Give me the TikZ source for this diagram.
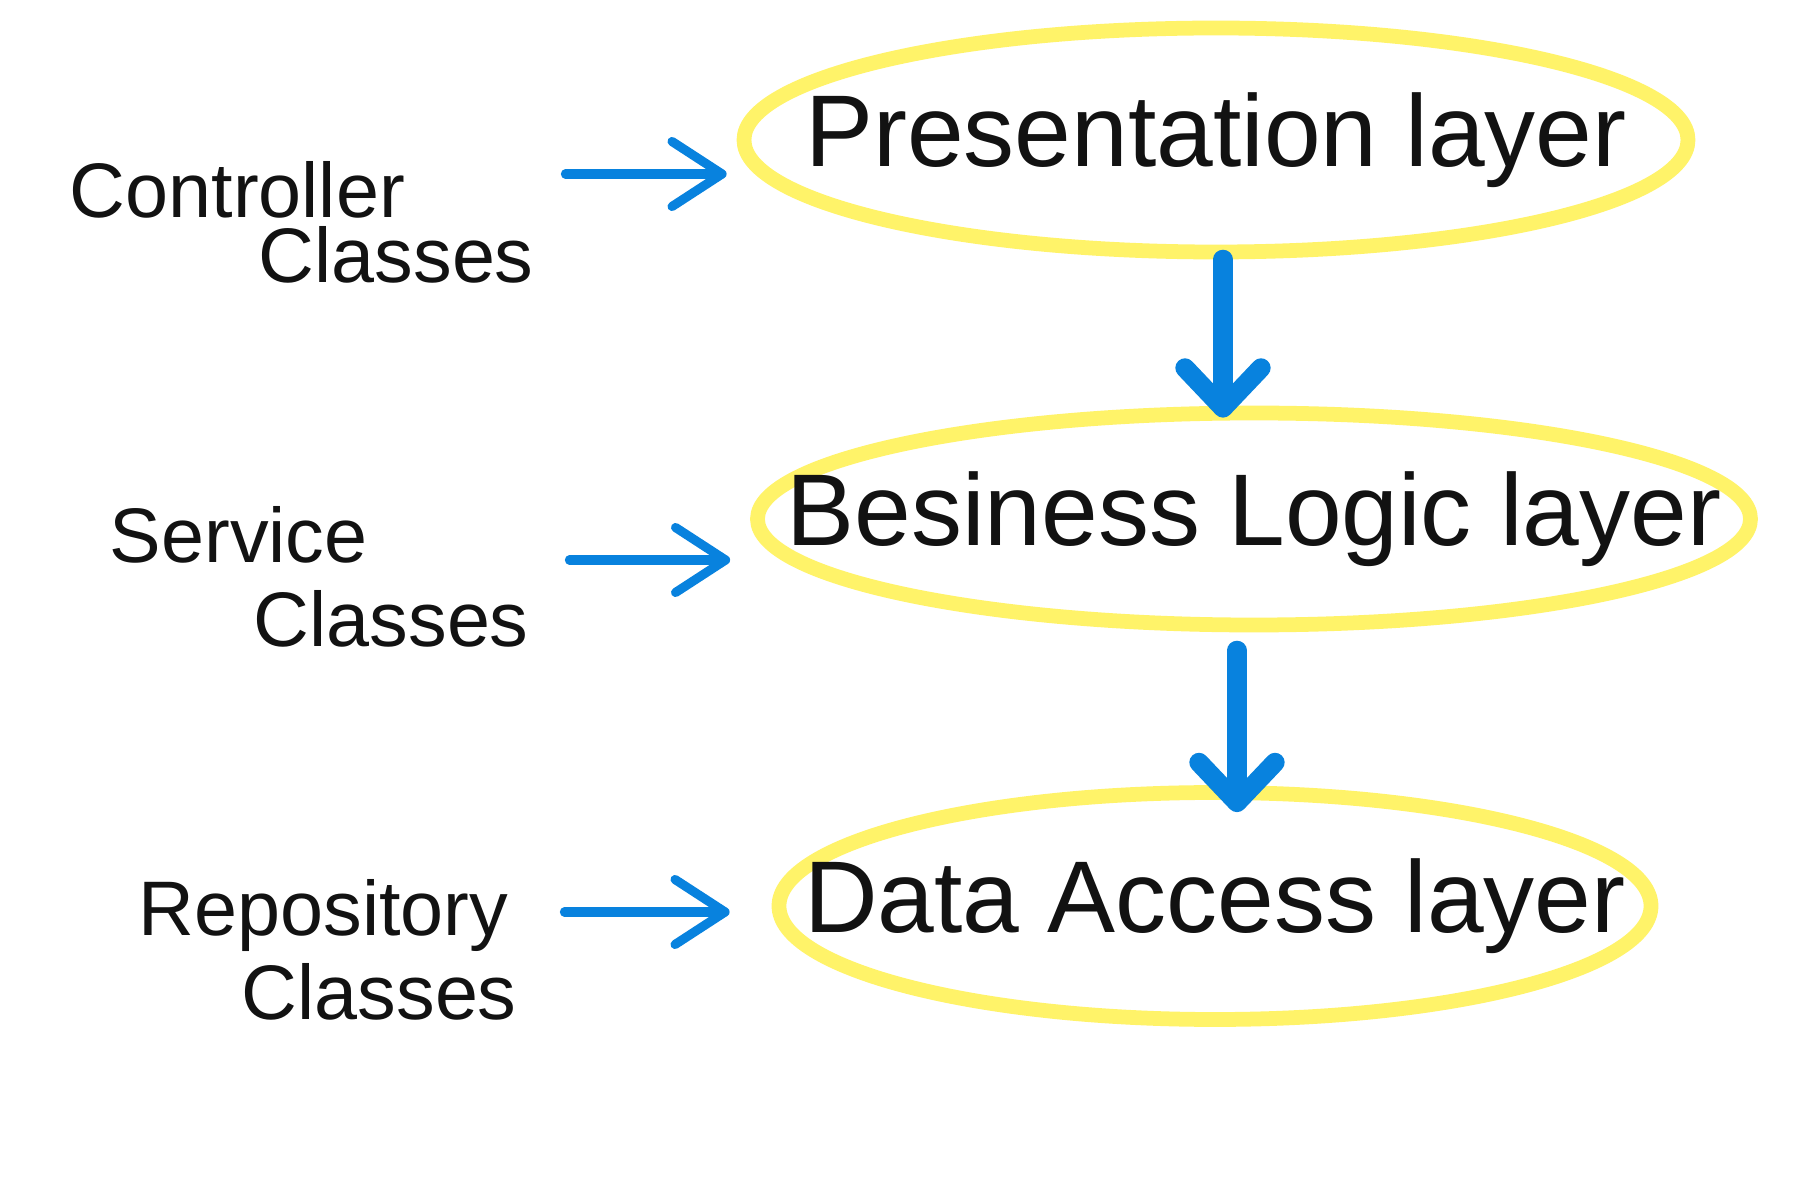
\documentclass[tikz,border=0pt]{standalone}
\usepackage{fontspec}
\setmainfont{Liberation Sans}
\usetikzlibrary{shapes.geometric, arrows.meta, positioning}
\definecolor{hlyellow}{RGB}{255,243,105}
\definecolor{penblue}{RGB}{8,130,222}
\definecolor{inkblack}{RGB}{18,18,18}

\begin{document}
\begin{tikzpicture}[
    layer/.style={ellipse, draw=hlyellow, line width=4.2pt,
                inner xsep=-1.5cm, inner ysep=-0.5cm,
                text=inkblack, font=\fontsize{29}{34}\selectfont},
    cls/.style={anchor=west, align=left, inner sep=0pt, text=inkblack,
                font=\fontsize{22}{24}\selectfont},
    harr/.style={-{Straight Barb[round, length=5mm, width=6.5mm]}, draw=penblue,
                line width=2.6pt, line cap=round},
    varr/.style={-{Straight Barb[round, length=4mm, width=7.6mm]}, draw=penblue,
                line width=5.5pt, line cap=round}
  ]
  \useasboundingbox[fill=white] (0,0) rectangle (18,12);

  %% ---- Layers ----
  \node[layer, minimum width=9.44cm, minimum height=2.24cm] (pres) at (12.16,10.60) {\raisebox{-1.5mm}{Presentation layer}};
  \node[layer, minimum width=9.93cm, minimum height=2.12cm] (busi) at (12.54,6.81)  {\raisebox{-1mm}{Besiness Logic layer}};
  \node[layer, minimum width=8.72cm, minimum height=2.27cm] (data) at (12.15,2.94)  {Data Access layer};

  %% ---- Class labels ----
  \node[cls] (ctrl) at (0.69,9.78) {Controller\\[-5.5pt]\hspace*{1.89cm}Classes};
  \node[cls] (serv) at (1.09,6.23) {Service\\\hspace*{1.44cm}Classes};
  \node[cls] (repo) at (1.38,2.50) {Repository\\\hspace*{1.03cm}Classes};

  %% ---- Label arrows ----
  \coordinate (ctrlout) at ([yshift=4.8mm]ctrl.east);
  \coordinate (servout) at ([yshift=1.7mm]serv.east);
  \coordinate (repoout) at ([yshift=3.8mm]repo.east);
  \draw[harr, shorten <=3.1mm, shorten >=1.0mm] (ctrlout) -- (ctrlout -| pres.west);
  \draw[harr, shorten <=4.0mm, shorten >=2.0mm] (servout) -- (servout -| busi.west);
  \draw[harr, shorten <=4.7mm, shorten >=4.2mm] (repoout) -- (repoout -| data.west);

  %% ---- Layer arrows ----
  \coordinate (presout) at ([xshift=0.7mm]pres.south);
  \coordinate (busiout) at ([xshift=-1.7mm]busi.south);
  \draw[varr, shorten >=-1.2mm] (presout) -- (presout |- busi.north);
  \draw[varr, shorten <=1.8mm, shorten >=-2.7mm] (busiout) -- (busiout |- data.north);

\end{tikzpicture}
\end{document}
